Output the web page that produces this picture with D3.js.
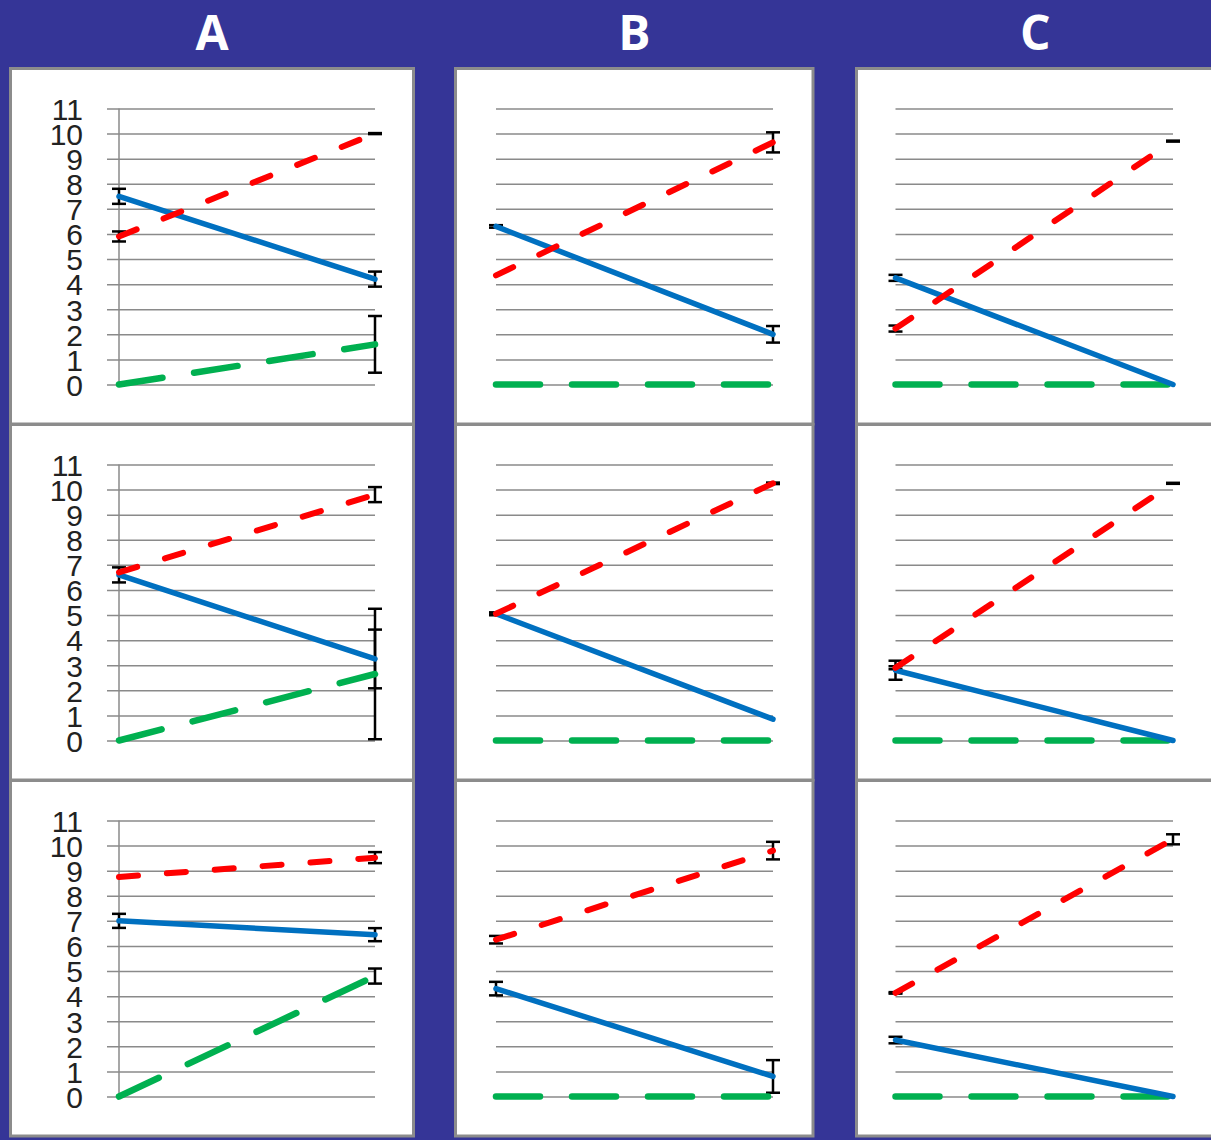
<!DOCTYPE html>
<html>
<head>
  <meta charset="utf-8">
  <title>Panels A B C</title>
  <script src="https://d3js.org/d3.v7.min.js"></script>
  <style>
    body { margin: 0; background: #353597; }
  </style>
</head>
<body>
  <svg width="1211" height="1140"></svg>
  <script>
    // column headers and y tick labels
    var columns = ["A", "B", "C"];
    var yTicks = [0, 1, 2, 3, 4, 5, 6, 7, 8, 9, 10, 11];
    var points = ["start", "end"];

    // one entry per panel, row by row: A1 B1 C1, A2 B2 C2, A3 B3 C3
    var blueSolid    = [[7.5, 4.2], [6.3, 2.0], [4.25, 0], [6.6, 3.25], [5.05, 0.85], [2.8, 0], [7.0, 6.45], [4.3, 0.8], [2.25, 0]];
    var blueErr      = [[0.3, 0.3], [0.05, 0.33], [0.12, 0], [0.3, 1.17], [0.05, 0], [0.38, 0], [0.28, 0.26], [0.27, 0.65], [0.13, 0]];
    var redDashed    = [[5.9, 10.0], [4.35, 9.65], [2.23, 9.7], [6.7, 9.8], [5.05, 10.25], [2.9, 10.25], [8.75, 9.52], [6.25, 9.8], [4.13, 10.25]];
    var redErr       = [[0.2, 0.02], [0, 0.4], [0.12, 0.02], [0, 0.3], [0.05, 0.03], [0.06, 0.02], [0, 0.22], [0.15, 0.35], [0.03, 0.2]];
    var greenLong    = [[0, 1.6], [0, 0], [0, 0], [0, 2.65], [0, 0], [0, 0], [0, 4.8], [0, 0], [0, 0]];
    var greenErr     = [[0, 1.13], [0, 0], [0, 0], [0, 2.6], [0, 0], [0, 0], [0, 0.3], [0, 0], [0, 0]];

    var svg = d3.select("svg");
    svg.append("rect").attr("width", 1211).attr("height", 1140).attr("fill", "#353597");

    // panel frames
    var colLeft = [10.5, 455.5, 856.5];
    var colRight = [413.5, 813, 1214];
    var rowTop = [68.5, 424.5, 780.5];
    var rowH = 355.5;

    // x range of the two category points in each column
    var plotX0 = [119, 496, 895.5];
    var plotX1 = [375, 773, 1173];

    // headers
    svg.selectAll("text.head")
      .data(columns)
      .enter()
      .append("text")
      .attr("class", "head")
      .attr("x", function(d, i) { return (colLeft[i] + colRight[i]) / 2; })
      .attr("y", 50)
      .attr("text-anchor", "middle")
      .attr("fill", "#ffffff")
      .style("font-family", "'Open Sans', sans-serif")
      .style("font-weight", "bold")
      .style("font-size", "48px")
      .text(function(d) { return d; });

    var series = [
      { vals: greenLong, err: greenErr, color: "#00b050", width: 6.5, dash: "44,32" },
      { vals: blueSolid, err: blueErr, color: "#0070c0", width: 5.5, dash: null },
      { vals: redDashed, err: redErr, color: "#ff0000", width: 6, dash: "19,29" }
    ];

    function drawPanel(r, c) {
      var p = r * 3 + c;
      var panelTop = rowTop[r];

      var g = svg.append("g");

      g.append("rect")
        .attr("x", colLeft[c])
        .attr("y", panelTop)
        .attr("width", colRight[c] - colLeft[c])
        .attr("height", rowH)
        .attr("fill", "#ffffff")
        .attr("stroke", "#8c8c8c")
        .attr("stroke-width", 3);

      var y = d3.scaleLinear().domain([0, 11]).range([panelTop + 316, panelTop + 40]);
      var x = d3.scalePoint().domain(points).range([plotX0[c], plotX1[c]]);

      var gridLeft = c === 0 ? plotX0[c] - 12 : plotX0[c];

      // gridlines
      var grid = g.append("g")
        .attr("transform", "translate(" + gridLeft + ",0)")
        .call(d3.axisLeft(y).tickValues(yTicks).tickSizeInner(-(plotX1[c] - gridLeft)).tickSizeOuter(0).tickFormat(""));
      grid.select(".domain").remove();
      grid.selectAll(".tick line").attr("stroke", "#8a8a8a").attr("stroke-width", 1.5);

      if (c === 0) {
        // y axis line and labels
        g.append("line")
          .attr("x1", plotX0[c]).attr("x2", plotX0[c])
          .attr("y1", y(0)).attr("y2", y(11))
          .attr("stroke", "#8a8a8a")
          .attr("stroke-width", 1.5);

        var lab = g.append("g")
          .attr("transform", "translate(" + gridLeft + ",0)")
          .call(d3.axisLeft(y).tickValues(yTicks).tickSize(0).tickPadding(24));
        lab.select(".domain").remove();
        lab.selectAll("text")
          .attr("fill", "#222222")
          .attr("dy", "0.36em")
          .style("font-family", "'Liberation Sans', Arial, sans-serif")
          .style("font-size", "30px");
      }

      // error bars first, lines drawn over them
      series.forEach(function(s) {
        points.forEach(function(k, i) {
          var v = s.vals[p][i], e = s.err[p][i];
          if (e <= 0) return;
          var px = x(k);
          var eb = g.append("g").attr("stroke", "#000000").attr("stroke-width", 2.5);
          eb.append("line").attr("x1", px).attr("x2", px).attr("y1", y(v - e)).attr("y2", y(v + e));
          eb.append("line").attr("x1", px - 7).attr("x2", px + 7).attr("y1", y(v - e)).attr("y2", y(v - e));
          eb.append("line").attr("x1", px - 7).attr("x2", px + 7).attr("y1", y(v + e)).attr("y2", y(v + e));
        });
      });

      var line = d3.line()
        .x(function(d, i) { return x(points[i]); })
        .y(function(d) { return y(d); });

      series.forEach(function(s) {
        g.append("path")
          .attr("d", line(s.vals[p]))
          .attr("fill", "none")
          .attr("stroke", s.color)
          .attr("stroke-width", s.width)
          .attr("stroke-linecap", "round")
          .attr("stroke-dasharray", s.dash);
      });
    }

    for (var r = 0; r < 3; r++) {
      for (var c = 0; c < 3; c++) {
        drawPanel(r, c);
      }
    }
  </script>
</body>
</html>
